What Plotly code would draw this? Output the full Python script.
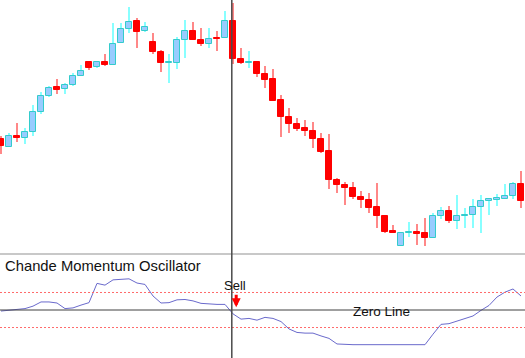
import plotly.graph_objects as go

# ---- Data (price units) ----
opens  = [161,153,164,162,168,188,204,213,211,215,224,238,233,238,235,257,271,279,269,258,
          248,237,237,260,269,260,256,262,262,279,241,237.5,238,226,221,200,183,176,172,169,
          161,149,120,115,112,103,100,93,84,69,54,67,68,67,62,84,89,79,84.5,85,
          93,99,100,101,104,116]
closes = [154,164,162,168,188,204,212,210,215,224,229,232,238,235,256,271,278,268,273,248,
          237,238,260,269,260,256,261,261,279,241,237,238.5,226,220,199,183,176,171,169,161,
          148,120,115,112,103,100,92,84,68,67,67,68,66,62,84,89,79,84,85.5,93,
          99,101,102,104,116,99]
highs  = [164,167,177,172,195,208,214,221,217,227,235,238,239,246,277,277,293,282,278,267,
          250,246,263,280,278,272,272,269,289,297,252,249,238,234,231,205,192,182,180,178,
          167,166,122,118,118,109,107,117,85,75,67,78,76,82,87,93,94,105,92,101,
          105,101,106,116,118,129]
lows   = [146,153,158,156,164,186,203,206,206,214,224,230,232,234,235,257,267,252,268,246,
          228,217,231,242,260,254,252,249,262,236,236,232,223,212,199,163,167,169,164,152,
          147,111,107,95,101,92,87,72,67,67,54,63,55,54,62,81,77,71,72,72,
          67,85,94,101,101,92]
cmo    = [-3,-1,1,4,11,23,23,20,4,6,14,21,76,71,86,87,89,77,73,40,
          20,21,29,30,26,19,17,16,16,-11,-26,-24,-29,-21,-24,-33,-54,-64,-66,-66,
          -74,-81,-97,-99,-99,-99,-99,-99,-99,-99,-99,-99,-99,-99,-69,-41,-39,-31,-24,-17,
          -1,13,37,51,60,40]
upper_level = 50
lower_level = -50
sell_index = 29

idx = list(range(len(opens)))
up = [c >= o for o, c in zip(opens, closes)]

UP_FILL, UP_EDGE, UP_WICK = "#99ccff", "#33cccc", "#88ffff"
DN_FILL, DN_EDGE, DN_WICK = "#ff0000", "#ff0000", "#ff8888"

fig = go.Figure()

# wicks
fig.add_trace(go.Bar(
    x=idx, y=[h - l for h, l in zip(highs, lows)], base=lows, width=0.14,
    marker=dict(color=[UP_WICK if u else DN_WICK for u in up], line=dict(width=0)),
    showlegend=False, hoverinfo="skip", xaxis="x", yaxis="y"))
# bodies
fig.add_trace(go.Bar(
    x=idx, y=[abs(c - o) for o, c in zip(opens, closes)],
    base=[min(o, c) for o, c in zip(opens, closes)], width=0.72,
    marker=dict(color=[UP_FILL if u else DN_FILL for u in up],
                line=dict(color=[UP_EDGE if u else DN_EDGE for u in up], width=1)),
    showlegend=False, xaxis="x", yaxis="y"))

# oscillator
fig.add_trace(go.Scatter(
    x=idx, y=cmo, mode="lines", line=dict(color="#6a6acc", width=1),
    showlegend=False, xaxis="x", yaxis="y2"))

shapes = [
    # separator
    dict(type="line", xref="paper", yref="paper", x0=0, x1=1, y0=0.2905, y1=0.2905,
         line=dict(color="#c8c8c8", width=2)),
    # levels
    dict(type="line", xref="paper", yref="y2", x0=0, x1=1, y0=upper_level, y1=upper_level,
         line=dict(color="#ff6a6a", width=1, dash="2px,2px")),
    dict(type="line", xref="paper", yref="y2", x0=0, x1=1, y0=lower_level, y1=lower_level,
         line=dict(color="#ff6a6a", width=1, dash="2px,2px")),
    dict(type="line", xref="paper", yref="y2", x0=0, x1=1, y0=0, y1=0,
         line=dict(color="#404040", width=1)),
    # vertical cursor line
    dict(type="line", xref="x", yref="paper", x0=sell_index - 0.15, x1=sell_index - 0.15,
         y0=0, y1=1, line=dict(color="#4a4a4a", width=1.5)),
]

annotations = [
    dict(text="Chande Momentum Oscillator", xref="paper", yref="y2", x=0.006, y=126,
         xanchor="left", yanchor="middle", showarrow=False,
         font=dict(family="Liberation Sans, Arial", size=14.8, color="#111")),
    dict(text="Sell", xref="x", yref="y2", x=sell_index + 0.2, y=71,
         xanchor="center", yanchor="middle", showarrow=False,
         font=dict(family="Liberation Sans, Arial", size=13, color="#111")),
    dict(text="", xref="x", yref="y2", x=sell_index + 0.4, y=8,
         ax=0, ay=-14, showarrow=True, arrowhead=2, arrowsize=0.6,
         arrowwidth=3, arrowcolor="#ff0000"),
    dict(text="Zero Line", xref="x", yref="y2", x=47.56, y=-4,
         xanchor="center", yanchor="middle", showarrow=False,
         font=dict(family="Liberation Sans, Arial", size=13.5, color="#111")),
]

fig.update_layout(
    width=525, height=358,
    margin=dict(l=0, r=0, t=0, b=0),
    paper_bgcolor="white", plot_bgcolor="white",
    barmode="overlay", bargap=0,
    xaxis=dict(range=[-0.125, 65.5], visible=False, anchor="y"),
    yaxis=dict(domain=[0.2933, 1], range=[47, 300], visible=False),
    yaxis2=dict(domain=[0, 0.2877], range=[-137, 157], visible=False, anchor="x"),
    shapes=shapes, annotations=annotations,
)

fig.write_html("out.html",
               config={"displayModeBar": False},
               post_script="document.body.style.margin='0';document.body.style.padding='0';"
                           "document.body.style.overflow='hidden';")
